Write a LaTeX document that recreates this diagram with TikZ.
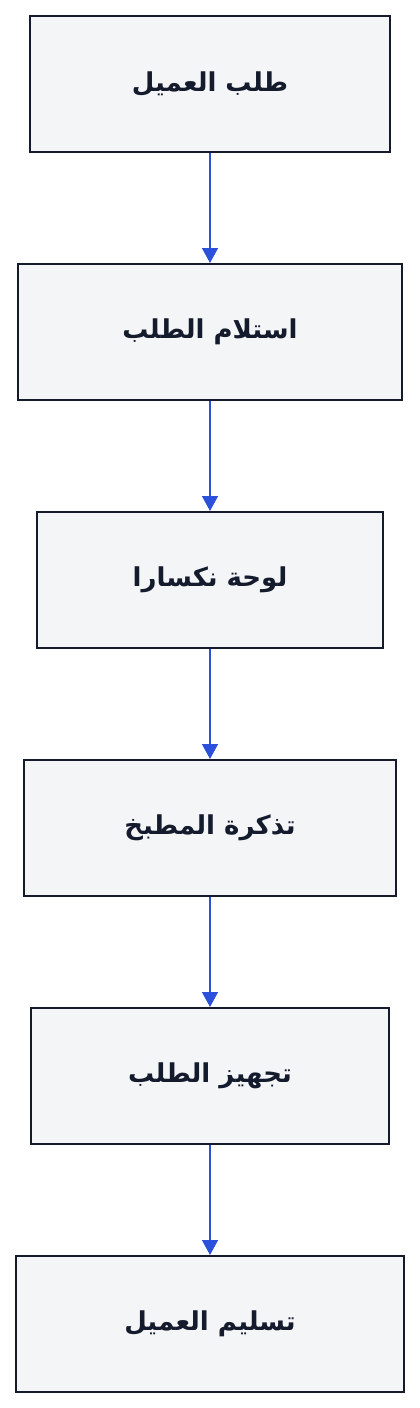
\documentclass[tikz,border=0pt]{standalone}
\usepackage{fontspec}
\newfontfamily\arabicfont[Script=Arabic]{DejaVu Sans}
\TeXXeTstate=1
\definecolor{boxFill}{HTML}{F4F5F7}
\definecolor{boxLine}{HTML}{141B2D}
\definecolor{flowBlue}{HTML}{2B50DB}
\usetikzlibrary{positioning, arrows.meta}

\begin{document}
\begin{tikzpicture}[x=1pt, y=-1pt,
    stepbox/.style={draw=boxLine, fill=boxFill, line width=2pt, minimum height=136pt,
      inner sep=0pt, font=\arabicfont\bfseries\fontsize{26}{30}\selectfont, text=boxLine},
    flow/.style={draw=flowBlue, line width=1.5pt, -{Triangle[length=15pt, width=16pt]}}]
      \useasboundingbox (0,0) rectangle (420,1408);

      % 各ステップの箱
      \node[stepbox, minimum width=360pt] (order) at (210,84) {\beginR طلب العميل\endR};
      \node[stepbox, minimum width=384pt] (receive) at (210,332) {\beginR استلام الطلب\endR};
      \node[stepbox, minimum width=346pt] (board) at (210,580) {\beginR لوحة نكسارا\endR};
      \node[stepbox, minimum width=372pt] (ticket) at (210,828) {\beginR تذكرة المطبخ\endR};
      \node[stepbox, minimum width=358pt] (prepare) at (210,1076) {\beginR تجهيز الطلب\endR};
      \node[stepbox, minimum width=388pt] (deliver) at (210,1324) {\beginR تسليم العميل\endR};

      % 箱と箱を結ぶ矢印
      \draw[flow] (order) -- (receive);
      \draw[flow] (receive) -- (board);
      \draw[flow] (board) -- (ticket);
      \draw[flow] (ticket) -- (prepare);
      \draw[flow] (prepare) -- (deliver);
    \end{tikzpicture}
\end{document}
